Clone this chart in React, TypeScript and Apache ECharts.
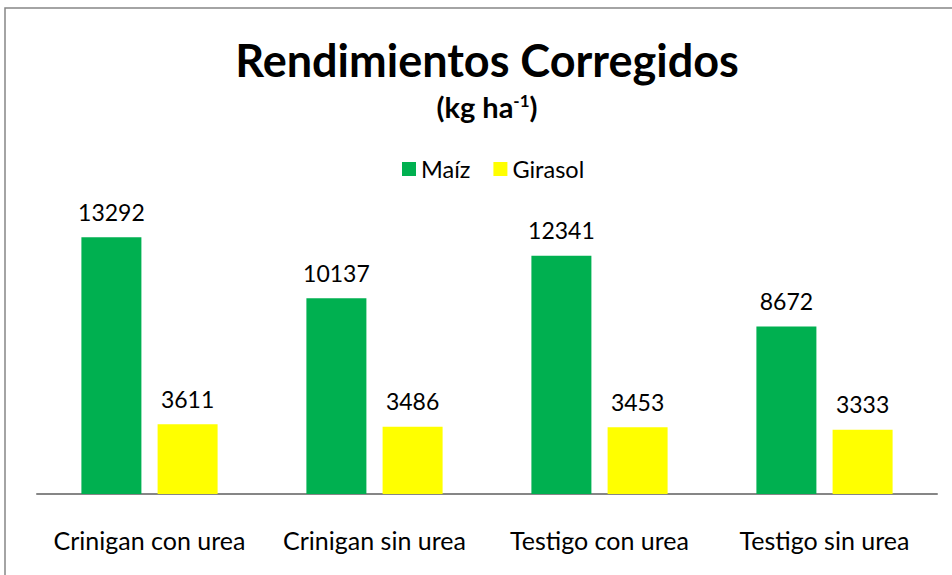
import React, { useEffect, useRef } from "react";
import * as echarts from "echarts";

const categories = ["Crinigan con urea", "Crinigan sin urea", "Testigo con urea", "Testigo sin urea"];
const maiz = [13292, 10137, 12341, 8672];
const girasol = [3611, 3486, 3453, 3333];

const FONT = "Lato, 'Liberation Sans', sans-serif";

export default function App() {
  const ref = useRef<HTMLDivElement>(null);
  useEffect(() => {
    if (!ref.current) return;
    const chart = echarts.init(ref.current, null, { renderer: "svg" });
    const labelCfg = {
      show: true,
      position: "top",
      distance: 14,
      color: "#000",
      fontSize: 23,
      fontFamily: FONT,
    };
    chart.setOption({
      animation: false,
      backgroundColor: "#fff",
      graphic: [
        {
          type: "rect",
          shape: { x: 5, y: 8, width: 1000, height: 620 },
          style: { fill: "none", stroke: "#868686", lineWidth: 1.5 },
          silent: true,
          z: 0,
        },
        {
          type: "text",
          x: 487,
          y: 60,
          style: {
            text: "Rendimientos Corregidos",
            fontSize: 45,
            fontWeight: "bold",
            fontFamily: FONT,
            fill: "#000",
            align: "center",
            verticalAlign: "middle",
          },
        },
        {
          type: "text",
          x: 487,
          y: 106,
          style: {
            text: "{a|(kg ha}{b|-1}{a|)}",
            rich: {
              a: { fontSize: 29, fontWeight: "bold", fontFamily: FONT, fill: "#000", verticalAlign: "bottom" },
              b: { fontSize: 17, fontWeight: "bold", fontFamily: FONT, fill: "#000", verticalAlign: "top", padding: [0, 0, 12, 0] },
            },
            align: "center",
            verticalAlign: "middle",
          },
        },
      ],
      legend: {
        left: 397,
        top: 152,
        icon: "rect",
        itemWidth: 14,
        itemHeight: 14,
        itemGap: 23,
        textStyle: { fontSize: 23.5, fontFamily: FONT, color: "#000" },
        data: ["Maíz", "Girasol"],
      },
      grid: { left: 37, right: 15, top: 185, bottom: 81, containLabel: false },
      xAxis: {
        type: "category",
        data: categories,
        axisLine: { show: true, lineStyle: { color: "#868686", width: 2 } },
        axisTick: { show: false },
        axisLabel: { fontSize: 25, fontFamily: FONT, color: "#000", margin: 33, interval: 0 },
      },
      yAxis: {
        type: "value",
        min: 0,
        max: 16000,
        show: false,
        splitLine: { show: false },
      },
      series: [
        {
          name: "Maíz",
          type: "bar",
          data: maiz,
          barWidth: 60,
          barGap: "27%",
          itemStyle: { color: "#00B050" },
          label: labelCfg,
        },
        {
          name: "Girasol",
          type: "bar",
          data: girasol,
          barWidth: 60,
          itemStyle: { color: "#FFFF00" },
          label: labelCfg,
        },
      ],
    });
    return () => chart.dispose();
  }, []);
  return <div ref={ref} style={{ position: "absolute", left: 0, top: 0, width: 952, height: 575 }} />;
}
